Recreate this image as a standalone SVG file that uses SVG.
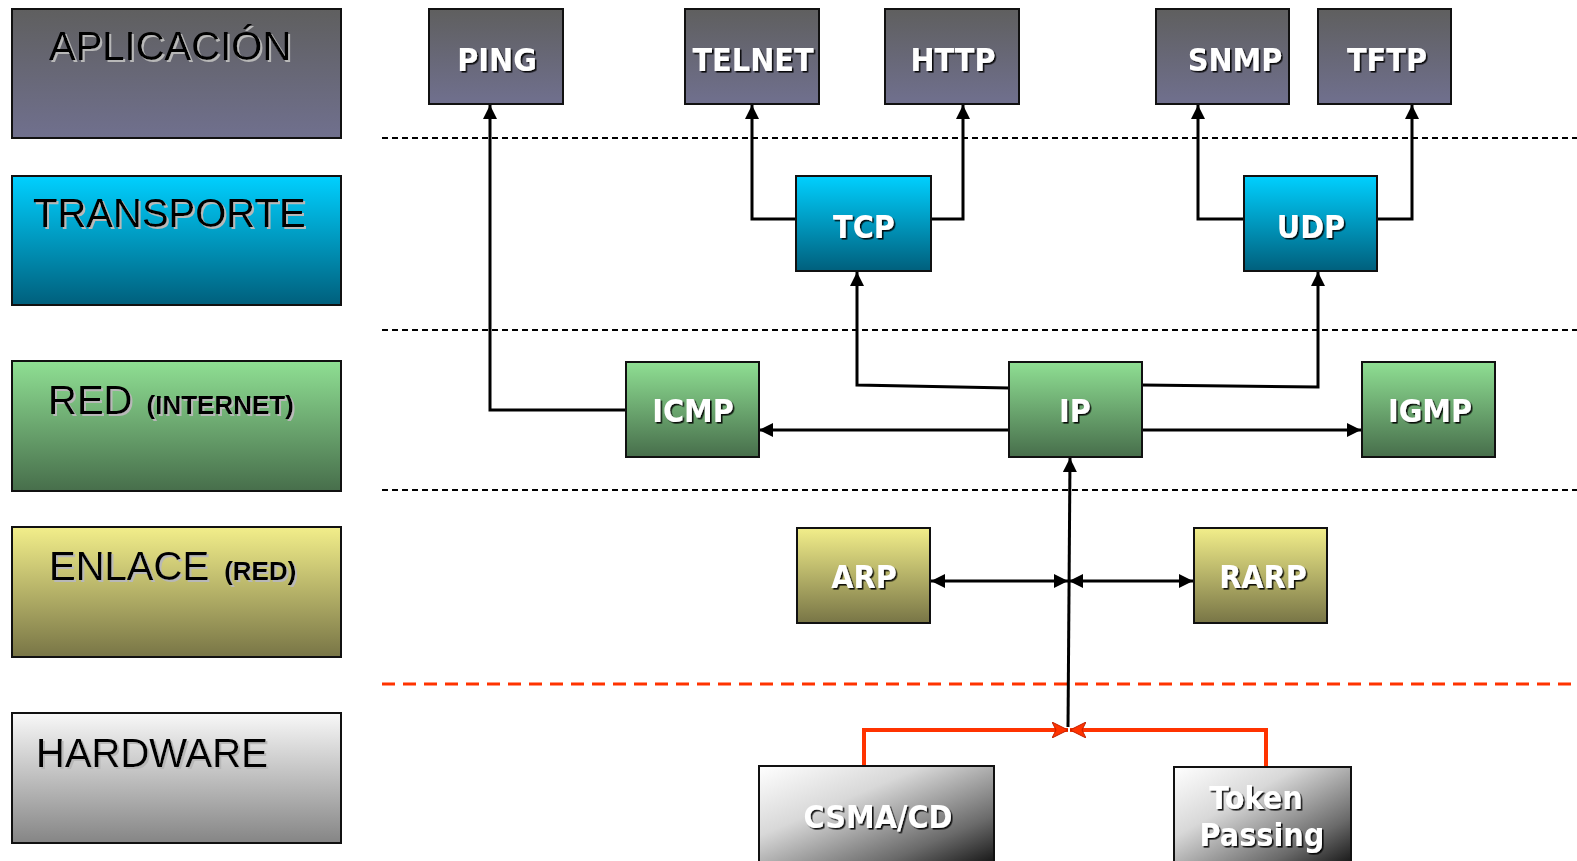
<svg xmlns="http://www.w3.org/2000/svg" width="1577" height="861" viewBox="0 0 1577 861">
<defs>
<linearGradient id="gApp" x1="0" y1="0" x2="0" y2="1"><stop offset="0" stop-color="#5f5f5f"/><stop offset="1" stop-color="#70708e"/></linearGradient>
<linearGradient id="gTra" x1="0" y1="0" x2="0" y2="1"><stop offset="0" stop-color="#00d0ff"/><stop offset="1" stop-color="#005f7c"/></linearGradient>
<linearGradient id="gRed" x1="0" y1="0" x2="0" y2="1"><stop offset="0" stop-color="#8fdf93"/><stop offset="1" stop-color="#476e4b"/></linearGradient>
<linearGradient id="gEnl" x1="0" y1="0" x2="0" y2="1"><stop offset="0" stop-color="#f2ee8a"/><stop offset="1" stop-color="#787546"/></linearGradient>
<linearGradient id="gHw" x1="0" y1="0" x2="0" y2="1"><stop offset="0" stop-color="#f8f8f8"/><stop offset="1" stop-color="#858585"/></linearGradient>
<linearGradient id="gDiag" x1="0" y1="0" x2="1" y2="1"><stop offset="0" stop-color="#ffffff"/><stop offset="0.35" stop-color="#d8d8d8"/><stop offset="0.75" stop-color="#6a6a6a"/><stop offset="1" stop-color="#111111"/></linearGradient>
<filter id="shDark" x="-10%" y="-20%" width="130%" height="150%"><feDropShadow dx="1.6" dy="1.6" stdDeviation="0.3" flood-color="#000" flood-opacity="0.9"/></filter>
<filter id="shLight" x="-10%" y="-20%" width="130%" height="150%"><feDropShadow dx="2" dy="2" stdDeviation="0.4" flood-color="#b8b8b8" flood-opacity="1"/></filter>
<marker id="ah" viewBox="0 0 14 14" refX="14" refY="7" markerWidth="14" markerHeight="14" markerUnits="userSpaceOnUse" orient="auto-start-reverse"><path d="M0,0 L14,7 L0,14 z" fill="#000"/></marker>
<marker id="ahr" viewBox="0 0 16 16" refX="16" refY="8" markerWidth="16" markerHeight="16" markerUnits="userSpaceOnUse" orient="auto"><path d="M0,0 L16,8 L0,16 L4,8 z" fill="#ff3300" stroke="#c02000" stroke-width="1"/></marker>
</defs>
<style>
.lay{stroke:#111;stroke-width:2}
.lt{font-family:"Liberation Sans",Arial,sans-serif;font-size:40px;fill:#000;filter:url(#shLight)}
.ls{font-family:"Liberation Sans",Arial,sans-serif;font-size:26px;font-weight:bold;fill:#000}
.nd{stroke:#111;stroke-width:2}
.nt{font-family:"DejaVu Sans Condensed","DejaVu Sans",sans-serif;font-stretch:condensed;font-weight:bold;font-size:32px;fill:#fff;text-anchor:middle;filter:url(#shDark)}
.dash{stroke:#000;stroke-width:2;stroke-dasharray:6 4;fill:none}
.rdash{stroke:#ff3300;stroke-width:3;stroke-dasharray:13 8;fill:none}
.c{stroke:#000;stroke-width:3;fill:none}
.cr{stroke:#ff3300;stroke-width:4;fill:none}
</style>
<rect width="1577" height="861" fill="#fff"/>

<g id="separators">
<line class="dash" x1="382" y1="138" x2="1577" y2="138"/>
<line class="dash" x1="382" y1="330" x2="1577" y2="330"/>
<line class="dash" x1="382" y1="490" x2="1577" y2="490"/>
<line class="rdash" x1="382" y1="684" x2="1577" y2="684"/>
</g>

<g id="layer-aplicacion"><rect class="lay" x="12" y="9" width="329" height="129" fill="url(#gApp)"/><text class="lt" x="49" y="60">APLICACIÓN</text></g>
<g id="layer-transporte"><rect class="lay" x="12" y="176" width="329" height="129" fill="url(#gTra)"/><text class="lt" x="33" y="227">TRANSPORTE</text></g>
<g id="layer-red"><rect class="lay" x="12" y="361" width="329" height="130" fill="url(#gRed)"/><text class="lt" x="48" y="414">RED <tspan class="ls" dx="3">(INTERNET)</tspan></text></g>
<g id="layer-enlace"><rect class="lay" x="12" y="527" width="329" height="130" fill="url(#gEnl)"/><text class="lt" x="49" y="580">ENLACE <tspan class="ls" dx="4">(RED)</tspan></text></g>
<g id="layer-hardware"><rect class="lay" x="12" y="713" width="329" height="130" fill="url(#gHw)"/><text class="lt" x="36" y="767">HARDWARE</text></g>

<g id="connectors">
<polyline class="c" points="626,410 490,410 490,105" marker-end="url(#ah)"/>
<polyline class="c" points="796,219 752,219 752,105" marker-end="url(#ah)"/>
<polyline class="c" points="931,219 963,219 963,105" marker-end="url(#ah)"/>
<polyline class="c" points="1244,219 1198,219 1198,105" marker-end="url(#ah)"/>
<polyline class="c" points="1377,219 1412,219 1412,105" marker-end="url(#ah)"/>
<polyline class="c" points="1009,388 857,385 857,272" marker-end="url(#ah)"/>
<polyline class="c" points="1142,385 1318,387 1318,272" marker-end="url(#ah)"/>
<line class="c" x1="1009" y1="430" x2="759" y2="430" marker-end="url(#ah)"/>
<line class="c" x1="1140" y1="430" x2="1361" y2="430" marker-end="url(#ah)"/>
<line class="c" x1="1068" y1="727" x2="1070" y2="458" marker-end="url(#ah)"/>
<line class="c" x1="931" y1="581" x2="1068" y2="581" marker-start="url(#ah)" marker-end="url(#ah)"/>
<line class="c" x1="1069" y1="581" x2="1193" y2="581" marker-start="url(#ah)" marker-end="url(#ah)"/>
<polyline class="cr" points="864,766 864,730 1068,730" marker-end="url(#ahr)"/>
<polyline class="cr" points="1266,766 1266,730 1070,730" marker-end="url(#ahr)"/>
</g>

<g id="node-ping"><rect class="nd" x="429" y="9" width="134" height="95" fill="url(#gApp)"/><text class="nt" x="497" y="71">PING</text></g>
<g id="node-telnet"><rect class="nd" x="685" y="9" width="134" height="95" fill="url(#gApp)"/><text class="nt" x="753" y="71">TELNET</text></g>
<g id="node-http"><rect class="nd" x="885" y="9" width="134" height="95" fill="url(#gApp)"/><text class="nt" x="953" y="71">HTTP</text></g>
<g id="node-snmp"><rect class="nd" x="1156" y="9" width="133" height="95" fill="url(#gApp)"/><text class="nt" x="1235" y="71">SNMP</text></g>
<g id="node-tftp"><rect class="nd" x="1318" y="9" width="133" height="95" fill="url(#gApp)"/><text class="nt" x="1387" y="71">TFTP</text></g>
<g id="node-tcp"><rect class="nd" x="796" y="176" width="135" height="95" fill="url(#gTra)"/><text class="nt" x="864" y="238">TCP</text></g>
<g id="node-udp"><rect class="nd" x="1244" y="176" width="133" height="95" fill="url(#gTra)"/><text class="nt" x="1311" y="238">UDP</text></g>
<g id="node-icmp"><rect class="nd" x="626" y="362" width="133" height="95" fill="url(#gRed)"/><text class="nt" x="693" y="422">ICMP</text></g>
<g id="node-ip"><rect class="nd" x="1009" y="362" width="133" height="95" fill="url(#gRed)"/><text class="nt" x="1075" y="422">IP</text></g>
<g id="node-igmp"><rect class="nd" x="1362" y="362" width="133" height="95" fill="url(#gRed)"/><text class="nt" x="1430" y="422">IGMP</text></g>
<g id="node-arp"><rect class="nd" x="797" y="528" width="133" height="95" fill="url(#gEnl)"/><text class="nt" x="864" y="588">ARP</text></g>
<g id="node-rarp"><rect class="nd" x="1194" y="528" width="133" height="95" fill="url(#gEnl)"/><text class="nt" x="1263" y="588">RARP</text></g>
<g id="node-csma"><rect class="nd" x="759" y="766" width="235" height="100" fill="url(#gDiag)"/><text class="nt" x="878" y="828">CSMA/CD</text></g>
<g id="node-token"><rect class="nd" x="1174" y="767" width="177" height="100" fill="url(#gDiag)"/><text class="nt" x="1256" y="809">Token</text><text class="nt" x="1262" y="846">Passing</text></g>
</svg>
